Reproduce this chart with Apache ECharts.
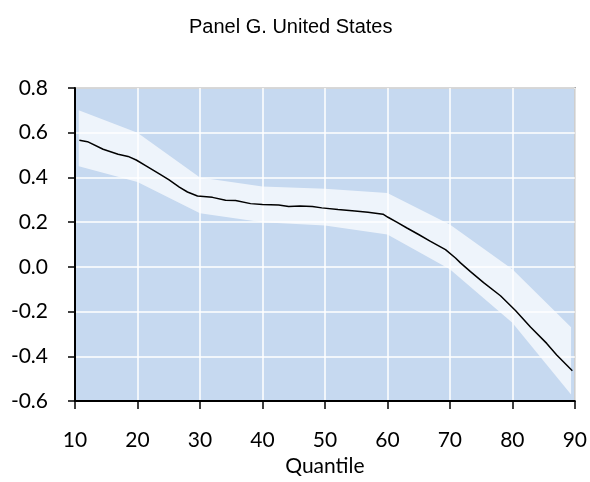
<!DOCTYPE html>
<html><head><meta charset="utf-8">
<script src="https://cdn.jsdelivr.net/npm/echarts@6/dist/echarts.min.js"></script>
<style>html,body{margin:0;padding:0;background:#fff}#c{width:590px;height:482px}</style>
</head><body><div id="c"></div>
<script>
var titleText = "Panel G. United States";
var xAxisName = "Quantile";
var lineQ = [10.7,12,14.5,16.9,18.5,19.8,21.5,23.5,25,26.7,28,29.6,32,34.1,35.7,38.1,40,42.6,44.2,46,48,49.5,52.1,54.8,56.9,59.3,60.1,61.5,63.2,65,66.9,69.3,70.9,71.7,73.3,75.4,78.1,80.5,82.9,85.5,87.1,89.6];
var lineV = [0.566,0.56,0.526,0.504,0.494,0.478,0.45,0.416,0.39,0.357,0.335,0.317,0.311,0.298,0.297,0.283,0.279,0.277,0.27,0.272,0.27,0.264,0.257,0.25,0.244,0.236,0.222,0.2,0.173,0.145,0.114,0.077,0.04,0.018,-0.021,-0.07,-0.129,-0.195,-0.269,-0.342,-0.394,-0.464];
var bandQ = [10.6,20,30,40,50,60,70,80,89.4];
var bandUpper = [0.70,0.60,0.40,0.36,0.35,0.33,0.19,-0.01,-0.27];
var bandLower = [0.45,0.38,0.24,0.20,0.185,0.145,-0.01,-0.25,-0.57];

var chart = echarts.init(document.getElementById('c'), null, {renderer:'canvas'});
var labelFont = 'Lato';
chart.setOption({
  animation:false,
  backgroundColor:'#ffffff',
  title:{text:titleText,left:184,top:12,textStyle:{fontFamily:'Liberation Sans',fontSize:20,fontWeight:'normal',color:'#000'}},
  grid:{left:75,right:12,top:88,bottom:77,show:true,backgroundColor:'#c6d9f0',borderColor:'#333',borderWidth:1.5},
  xAxis:{type:'value',min:10,max:90,interval:10,
    name:xAxisName,nameLocation:'middle',nameGap:54,nameTextStyle:{fontFamily:labelFont,fontSize:21,color:'#000'},
    axisLine:{show:true,onZero:false,lineStyle:{color:'#000',width:2}},
    axisTick:{show:true,length:8,lineStyle:{color:'#000',width:1.5}},
    axisLabel:{fontFamily:labelFont,fontSize:21,color:'#000',margin:29},
    splitLine:{show:true,lineStyle:{color:'#ffffff',width:1.5}}},
  yAxis:{type:'value',min:-0.6,max:0.8,interval:0.2,
    axisLine:{show:true,onZero:false,lineStyle:{color:'#000',width:2}},
    axisTick:{show:true,length:7,lineStyle:{color:'#000',width:1.5}},
    axisLabel:{fontFamily:labelFont,fontSize:21,color:'#000',margin:27,formatter:function(v){return v.toFixed(1);}},
    splitLine:{show:true,lineStyle:{color:'#ffffff',width:1.5}}},
  series:[
    {type:'custom',silent:true,
      data:bandQ.map(function(q,i){return [q,bandLower[i],bandUpper[i]];}),
      encode:{x:0,y:[1,2]},
      renderItem:function(params,api){
        if(params.dataIndex!==0) return;
        var pts=[],i;
        for(i=0;i<bandQ.length;i++) pts.push(api.coord([bandQ[i],bandUpper[i]]));
        for(i=bandQ.length-1;i>=0;i--) pts.push(api.coord([bandQ[i],bandLower[i]]));
        return {type:'polygon',shape:{points:pts},style:{fill:'rgba(255,255,255,0.7)'}};
      }},
    {type:'line',symbol:'none',lineStyle:{color:'#000',width:1.5},
      data:lineQ.map(function(q,i){return [q,lineV[i]];})}
  ]
});
</script></body></html>
